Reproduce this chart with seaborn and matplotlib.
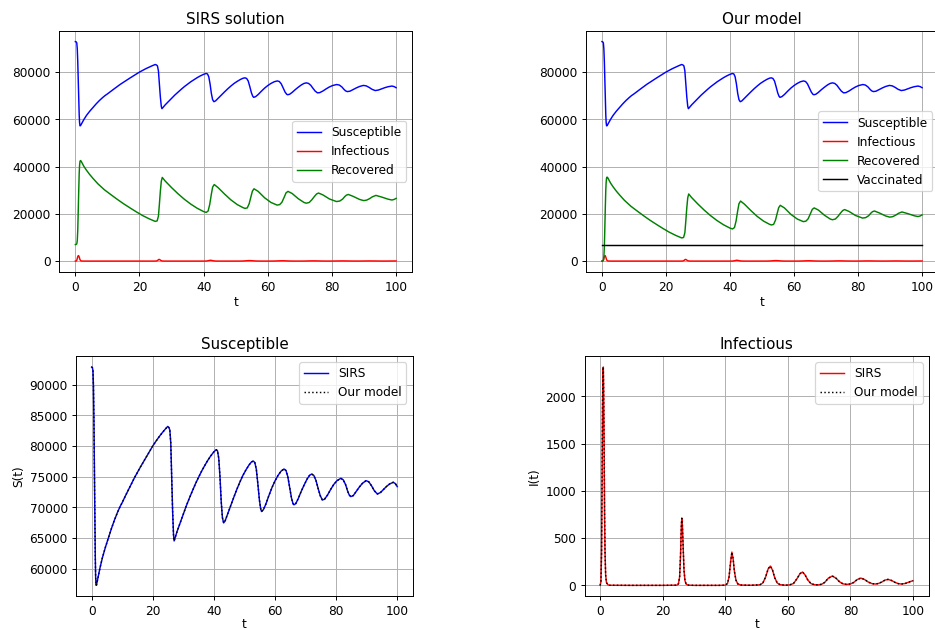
import matplotlib
matplotlib.use('Agg')
import matplotlib.pyplot as plt
import seaborn

# values
t_s = [0, 0.25, 0.45, 0.6, 0.75, 0.9, 1.05, 1.2, 1.32, 1.45, 1.6, 2.0, 2.7, 3.5, 4.5, 5.5, 6.5, 7.5, 8.5, 9.3,
       10, 11, 12, 13, 14, 15, 16, 17, 18, 19, 20, 21, 22, 23, 24, 24.9, 25.3, 25.6, 25.9, 26.2,
       26.5, 26.8, 27.0, 27.5, 28, 29, 30, 31, 32, 33, 34, 35, 36, 37, 38, 39, 40, 40.8, 41.2, 41.6,
       42.0, 42.4, 42.8, 43.2, 43.7, 44.5, 45.5, 46.5, 47.5, 48.5, 49.5, 50.5, 51.5, 52.3, 52.9, 53.4, 53.9, 54.4,
       54.9, 55.3, 55.6, 56.2, 57, 58, 59, 60, 61, 62, 62.95, 63.6, 64.2, 64.8, 65.4, 65.9, 66.2, 66.8,
       67.6, 68.5, 69.5, 70.5, 71.3, 72.0, 72.7, 73.4, 74.1, 74.8, 75.5, 76.2, 77.2, 78.2, 79.2, 80.2, 81.5, 82.3,
       83.1, 83.8, 84.3, 84.8, 85.6, 86.6, 87.6, 88.6, 89.8, 90.7, 91.6, 92.5, 93.5, 94.5, 95.5, 96.5, 97.5, 98.7,
       99.4, 100]
susceptible = [92900, 92800, 92300, 89800, 84500, 76500, 68500, 62000, 58600, 57250, 57300, 58300, 60000, 61700, 63450, 65000, 66550, 67950, 69200, 70100,
               70750, 71800, 72800, 73800, 74800, 75700, 76600, 77450, 78300, 79150, 80000, 80750, 81450, 82100, 82700, 83200, 83000, 82600, 80500, 75000,
               69500, 65500, 64500, 65300, 66100, 67500, 68900, 70250, 71500, 72700, 73850, 74900, 75900, 76800, 77650, 78400, 79050, 79400, 79200, 78000,
               75000, 71000, 68300, 67450, 67800, 68900, 70250, 71600, 72900, 74100, 75200, 76100, 76900, 77400, 77550, 77300, 76200, 73800,
               71200, 69800, 69300, 69600, 70500, 71900, 73200, 74300, 75200, 75900, 76250, 76000, 75000, 73300, 71500, 70600, 70400, 70600,
               71400, 72500, 73600, 74600, 75200, 75430, 75200, 74400, 73100, 71900, 71200, 71300, 72000, 72900, 73700, 74300, 74730, 74500,
               73700, 72600, 72000, 71740, 71900, 72600, 73300, 73900, 74350, 74150, 73500, 72700, 72170, 72400, 72900, 73400, 73800, 74080,
               73850, 73370]

t_i = [0, 0.25, 0.45, 0.6, 0.75, 0.9, 1.0, 1.1, 1.25, 1.4, 1.55, 1.75, 2.0, 2.5, 3, 10, 20, 24.5,
       25.0, 25.4, 25.7, 25.95, 26.1, 26.3, 26.55, 26.8, 27.1, 27.5, 28.2, 30, 38, 40.0,
       40.7, 41.2, 41.7, 42.1, 42.5, 42.9, 43.4, 44.0, 45, 48, 51.0, 52.0, 52.9, 53.7, 54.4, 55.1,
       55.8, 56.6, 57.5, 59, 60.5, 61.8, 62.9, 63.9, 64.7, 65.5, 66.4, 67.4, 68.6, 69.8, 70.8, 71.8,
       72.9, 74.2, 75.4, 76.5, 77.6, 78.8, 80.0, 81.0, 82.1, 83.3, 84.5, 85.7, 86.9, 88.0, 89.0, 90.0,
       91.0, 92.0, 93.1, 94.2, 95.3, 96.3, 97.5, 98.5, 99.3, 100]
infectious = [0, 40, 350, 1100, 1900, 2280, 2310, 2100, 1500, 800, 350, 110, 30, 5, 1, 0, 0, 2,
              15, 90, 330, 640, 710, 620, 380, 160, 50, 12, 2, 0, 0, 2,
              20, 90, 250, 352, 280, 150, 55, 15, 3, 1, 5, 25, 90, 175, 204, 160,
              80, 25, 7, 2, 4, 20, 70, 125, 141, 110, 55, 18, 6, 5, 12, 32,
              75, 99, 75, 38, 16, 10, 15, 30, 60, 77, 62, 35, 18, 14, 20, 35,
              55, 63, 52, 32, 18, 14, 20, 32, 42, 49]

t_r = [0, 0.25, 0.45, 0.6, 0.75, 0.9, 1.05, 1.2, 1.32, 1.45, 1.6, 1.8, 2.7, 3.5, 4.5, 5.5, 7, 9, 11, 13, 15,
       17, 19, 21, 23, 24.9, 25.5, 25.9, 26.2, 26.5, 26.8, 27.1, 28, 30, 32, 34, 36, 38, 40, 40.8, 41.4,
       41.9, 42.4, 42.8, 43.3, 44.5, 46.5, 48.5, 50.5, 52.3, 52.9, 53.6, 54.2, 54.7, 55.2, 55.7, 57, 59, 61,
       62.9, 63.7, 64.4, 65.1, 65.7, 66.3, 67.6, 69.5, 71.3, 72.0, 72.9, 73.7, 74.5, 75.2, 75.8, 77.2, 79.2, 81.4,
       82.4, 83.3, 84.0, 84.5, 85.1, 86.6, 88.6, 89.9, 90.8, 91.7, 92.6, 93.7, 95.5, 97.5, 98.7, 99.4, 100]
recovered_sirs = [7000, 7050, 7300, 8700, 13000, 21000, 29500, 37000, 40500, 42200, 42550, 42300, 40000, 38400, 36600, 35000, 32750, 30250, 28200, 26200, 24300,
                  22550, 20850, 19250, 17900, 16800, 17000, 19000, 24000, 29500, 33800, 35400, 33900, 31100, 28500, 26150, 24100, 22350, 20950, 20600, 21200,
                  24000, 28300, 31300, 32400, 31100, 28400, 25900, 23900, 22600, 22300, 22500, 24300, 27000, 29600, 30600, 29500, 26800, 24800,
                  23700, 23900, 24900, 27000, 28900, 29500, 28600, 26400, 24800, 24500, 24800, 25900, 27300, 28400, 28800, 28000, 26300, 25200,
                  25400, 26200, 27300, 27900, 28200, 27400, 26100, 25600, 25800, 26400, 27200, 27800, 27100, 26200, 25850, 26100, 26550]
recovered_ours = [0, 50, 300, 1700, 6000, 14000, 22500, 30000, 33500, 35200, 35550, 35300, 33000, 31400, 29600, 28000, 25750, 23250, 21200, 19200, 17300,
                  15550, 13850, 12250, 10900, 9800, 10000, 12000, 17000, 22500, 26800, 28400, 26900, 24100, 21500, 19150, 17100, 15350, 13950, 13600, 14200,
                  17000, 21300, 24300, 25400, 24100, 21400, 18900, 16900, 15600, 15300, 15500, 17300, 20000, 22600, 23600, 22500, 19800, 17800,
                  16700, 16900, 17900, 20000, 21900, 22500, 21600, 19400, 17800, 17500, 17800, 18900, 20300, 21400, 21800, 21000, 19300, 18200,
                  18400, 19200, 20300, 20900, 21200, 20400, 19100, 18600, 18800, 19400, 20200, 20800, 20100, 19200, 18850, 19100, 19550]

t_v = [0, 100]
vaccinated = [7000, 7000]

dpi = 87
fig = plt.figure(figsize=(935.4 / dpi, 630.4 / dpi), dpi=dpi)
ax1 = fig.add_axes([0.0634, 0.5678, 0.3772, 0.383])
ax2 = fig.add_axes([0.6264, 0.5678, 0.3765, 0.383])
ax3 = fig.add_axes([0.0816, 0.0535, 0.3594, 0.381])
ax4 = fig.add_axes([0.6249, 0.0535, 0.3679, 0.381])

lw = 1.2
kw = dict(estimator=None, sort=False, linewidth=lw)

# SIRS solution
seaborn.lineplot(x=t_s, y=susceptible, color='b', label='Susceptible', ax=ax1, **kw)
seaborn.lineplot(x=t_i, y=infectious, color='r', label='Infectious', ax=ax1, **kw)
seaborn.lineplot(x=t_r, y=recovered_sirs, color='g', label='Recovered', ax=ax1, **kw)
ax1.set_title('SIRS solution', fontsize=12.5)
ax1.set_xlabel('t', labelpad=1.5)
ax1.legend(loc='center right')

# our model
seaborn.lineplot(x=t_s, y=susceptible, color='b', label='Susceptible', ax=ax2, **kw)
seaborn.lineplot(x=t_i, y=infectious, color='r', label='Infectious', ax=ax2, **kw)
seaborn.lineplot(x=t_r, y=recovered_ours, color='g', label='Recovered', ax=ax2, **kw)
seaborn.lineplot(x=t_v, y=vaccinated, color='k', label='Vaccinated', ax=ax2, **kw)
ax2.set_title('Our model', fontsize=12.5)
ax2.set_xlabel('t', labelpad=1.5)
ax2.legend(loc='center right')

# comparison S
seaborn.lineplot(x=t_s, y=susceptible, color='b', label='SIRS', ax=ax3, **kw)
seaborn.lineplot(x=t_s, y=susceptible, color='k', linestyle=':', label='Our model', ax=ax3, **kw)
ax3.set_title('Susceptible', fontsize=12.5)
ax3.set_xlabel('t', labelpad=0)
ax3.set_ylabel('S(t)')
ax3.legend(loc='upper right')

# comparison I
seaborn.lineplot(x=t_i, y=infectious, color='r', label='SIRS', ax=ax4, **kw)
seaborn.lineplot(x=t_i, y=infectious, color='k', linestyle=':', label='Our model', ax=ax4, **kw)
ax4.set_title('Infectious', fontsize=12.5)
ax4.set_xlabel('t', labelpad=0)
ax4.set_ylabel('I(t)')
ax4.legend(loc='upper right')

for ax in [ax1, ax2, ax3, ax4]:
    ax.grid(True)
    ax.set_xticks([0, 20, 40, 60, 80, 100])

plt.savefig('out.png', dpi=dpi)
